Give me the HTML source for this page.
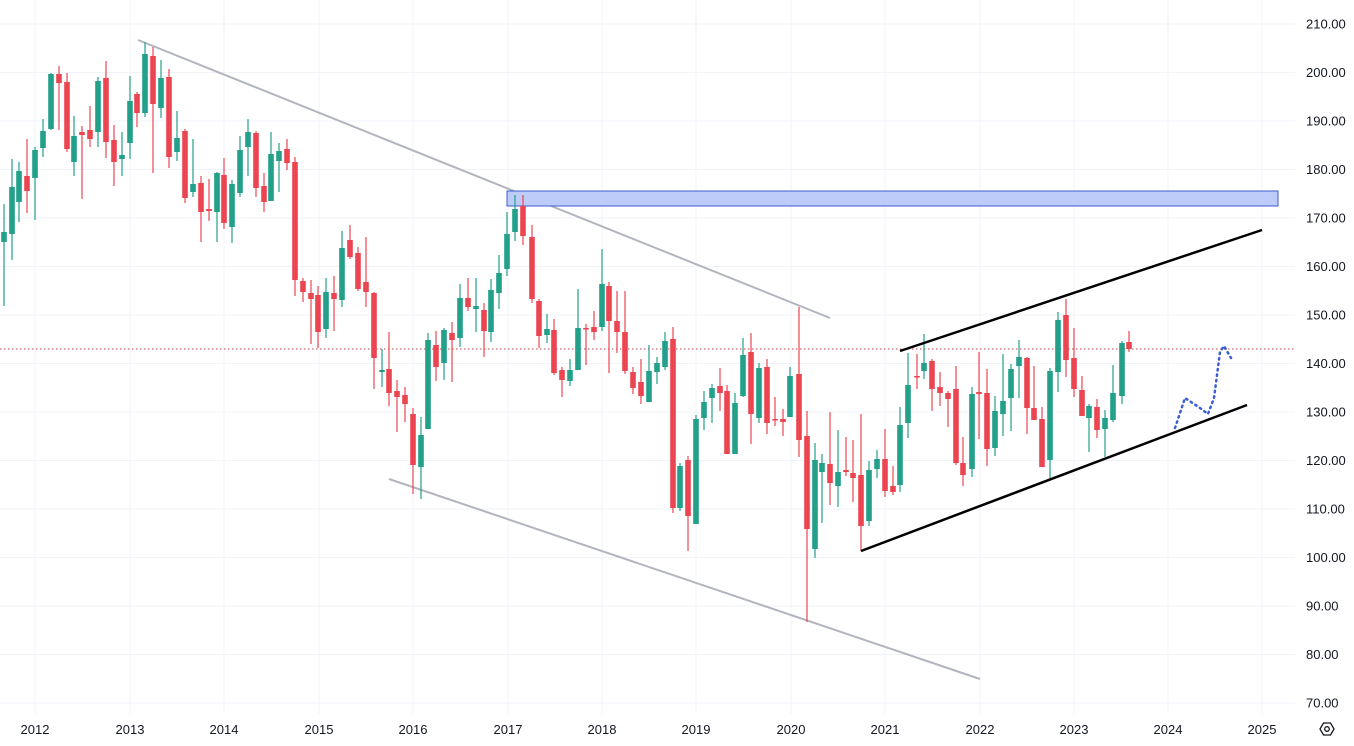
<!DOCTYPE html>
<html><head><meta charset="utf-8"><style>
html,body{margin:0;padding:0;background:#fff;}
svg{display:block;font-family:"Liberation Sans",sans-serif;}
</style></head><body>
<svg id="c" width="1354" height="746" xmlns="http://www.w3.org/2000/svg">
<g id="grid" stroke="#f0f3fa" stroke-width="1"></g>
<g id="labels" font-size="13" fill="#131722"></g>
<line x1="0" y1="349" x2="1295" y2="349" stroke="#c2424c" stroke-width="1" stroke-dasharray="1.5,2.5"/>
<line x1="138" y1="40" x2="830" y2="318" stroke="#b2b5be" stroke-width="2"/>
<line x1="389" y1="479" x2="980" y2="679" stroke="#b2b5be" stroke-width="2"/>
<rect x="507" y="191" width="771" height="15" fill="#bccbf8" stroke="#3b5ed6" stroke-width="1"/>
<g id="candles"></g>
<line x1="900" y1="351" x2="1262" y2="230" stroke="#000" stroke-width="2.5"/>
<line x1="861" y1="551" x2="1247" y2="405" stroke="#000" stroke-width="2.5"/>
<polyline points="1175,428 1185,398 1200,408 1208,414 1214,398 1220,352 1224,346 1231,358" fill="none" stroke="#3b5ed6" stroke-width="2.5" stroke-dasharray="1.5,4" stroke-linecap="round"/>
<g transform="translate(1327,729)" fill="none" stroke="#131722" stroke-width="1.3">
<polygon points="-7,0 -3.5,-6 3.5,-6 7,0 3.5,6 -3.5,6"/>
<circle r="2.3"/>
</g>
</svg>
<script>
var NS="http://www.w3.org/2000/svg";
function el(p,t,a,txt){var e=document.createElementNS(NS,t);for(var k in a)e.setAttribute(k,a[k]);if(txt)e.textContent=txt;p.appendChild(e);return e;}
var g=document.getElementById('grid'),L=document.getElementById('labels');
for(var i=0;i<=14;i++){var y=24+i*48.5;el(g,'line',{x1:0,x2:1295,y1:y,y2:y});el(L,'text',{x:1306,y:y+4.5},(210-i*10).toFixed(2));}
var yx=[35,130,224,319,413,508,602,696,791,885,980,1074,1168,1262];
yx.forEach(function(x,i){el(g,'line',{x1:x,x2:x,y1:0,y2:714});el(L,'text',{x:x,y:734,'text-anchor':'middle'},String(2012+i));});
// x, open, close, high, low (pixel y)
var D=[
[4,242,232,204,306],[12,234,187,159,260],[19,202,171,162,222],[27,176,191,139,213],[35,178,150,147,220],[43,148,131,119,157],[51,129,74,73,130],[59,74,83,66,130],[67,82,149,73,152],[74,162,136,116,176],[82,132,135,126,199],[90,130,139,106,147],[98,132,81,77,147],[106,78,142,61,158],[114,140,162,125,186],[122,159,155,132,176],[130,143,101,76,159],[137,94,113,92,127],[145,113,54,42,117],[153,56,104,47,173],[161,108,78,60,118],[169,77,157,69,168],[177,152,138,111,161],[185,131,198,129,203],[193,192,184,139,197],[201,183,212,176,242],[209,209,211,179,221],[217,212,173,172,242],[224,175,223,158,229],[232,227,184,180,243],[240,193,150,136,197],[248,147,132,119,176],[256,133,188,131,197],[264,186,202,173,212],[271,201,154,132,201],[279,161,151,143,192],[287,149,163,139,170],[295,162,280,157,296],[303,281,292,278,302],[311,293,299,280,344],[318,295,332,286,348],[326,329,292,278,338],
[334,293,299,276,331],[342,300,248,231,307],[350,240,257,225,259],[358,253,289,247,291],[366,282,292,237,307],[374,293,358,292,389],[382,372,370,349,387],[389,369,393,332,406],[397,391,397,380,432],[405,395,404,387,422],[413,414,465,408,494],[421,467,435,417,499],[428,429,340,333,429],[436,345,367,331,381],[444,363,330,328,380],[452,333,340,322,382],[460,338,298,284,347],[468,298,307,278,311],[476,309,306,278,332],[484,310,331,303,357],[491,332,290,279,342],[499,293,273,255,309],[507,269,234,212,276],[515,232,209,195,241],[523,206,236,195,245],[532,237,299,225,303],[539,301,336,299,348],[547,335,329,314,343],[554,330,373,319,375],[562,370,380,367,397],[570,381,370,359,386],[578,370,328,289,370],[586,328,329,324,365],[594,327,332,311,340],[602,327,284,249,331],
[609,286,321,282,373],[617,321,332,291,353],[625,332,371,291,374],[633,372,388,367,394],[641,382,396,359,404],[649,402,371,345,402],[657,372,363,357,384],[665,367,341,332,370],[673,339,508,327,513],[680,508,466,463,511],[688,460,516,456,551],[696,524,419,415,524],[704,418,402,391,430],[712,398,388,384,423],[720,386,393,368,411],[727,391,454,385,454],[735,454,403,393,454],[743,396,355,338,397],[751,352,414,333,444],[759,418,368,363,423],[767,367,423,359,434],[775,419,420,397,426],[783,419,422,409,436],[790,417,376,367,417],[799,374,440,307,457],[807,436,529,411,622],[815,549,460,443,558],[822,472,463,454,523],[830,464,483,412,505],[838,486,472,430,507],[846,470,472,437,476],[853,473,478,440,502],[861,475,526,414,551],[869,521,470,461,526],[877,469,459,450,478],[885,459,491,429,497],[893,486,492,466,495],[900,485,425,407,492],[908,423,385,353,438],
[917,376,377,354,389],[924,371,363,334,379],[932,361,389,359,411],[940,387,393,372,406],[948,393,399,391,427],[956,389,463,366,465],[963,463,475,437,486],[972,469,394,387,477],[979,392,394,352,439],[987,393,449,369,466],[995,448,411,396,456],[1003,414,401,354,436],[1011,398,369,364,431],[1019,366,357,340,398],[1027,358,408,357,434],[1034,408,420,366,420],[1042,419,467,407,467],[1050,460,371,368,479],[1058,372,320,312,392],[1066,315,360,299,377],[1074,358,389,328,397],[1082,390,416,376,416],[1089,418,406,404,452],[1097,407,430,399,438],[1105,429,418,410,457],[1113,420,393,365,422],[1122,396,343,341,404],[1129,342,349,331,352]];
var C=document.getElementById('candles');
D.forEach(function(d){var x=d[0],o=d[1],c=d[2],up=c<o;var col=up?'#22a08a':'#ec4552';
el(C,'line',{x1:x,x2:x,y1:d[3],y2:d[4],stroke:col,'stroke-width':1.2});
var t=Math.min(o,c),h=Math.max(Math.abs(o-c),1.5);
el(C,'rect',{x:x-2.8,y:t,width:5.6,height:h,fill:col});});
</script>
</body></html>
